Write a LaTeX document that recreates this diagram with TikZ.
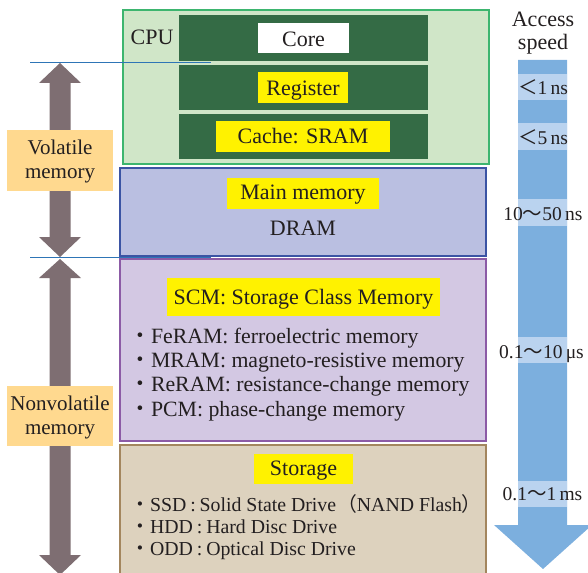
\documentclass[tikz,border=0pt]{standalone}
\usepackage{fontspec}
\setmainfont{Liberation Serif}
\newfontfamily\cjk{Noto Sans CJK JP}

\definecolor{cpufill}{HTML}{D0E6C8}
\definecolor{cpuline}{HTML}{3DB56F}
\definecolor{darkbar}{HTML}{346B45}
\definecolor{mainfill}{HTML}{BABFE1}
\definecolor{mainline}{HTML}{3B54A4}
\definecolor{scmfill}{HTML}{D3C8E3}
\definecolor{scmline}{HTML}{8C5BA6}
\definecolor{storfill}{HTML}{DDD2BE}
\definecolor{storline}{HTML}{A3865E}
\definecolor{tagorange}{HTML}{FFD98F}
\definecolor{bigarrow}{HTML}{7E6E72}
\definecolor{speedblue}{HTML}{7CAFDE}
\definecolor{speedband}{HTML}{BAD3EF}
\definecolor{hlyellow}{HTML}{FFF200}
\definecolor{rule}{HTML}{2E75B6}
\definecolor{ink}{HTML}{231F20}

\newcommand\fsz[1]{\fontsize{#1}{24}\selectfont}
\newcommand\bul{{\cjk ・}}
\newcommand\wave{{\cjk ～}}
\newcommand\sep{\hspace{0.2em}:\hspace{0.2em}}

\tikzset{
  layer/.style={draw, line width=1.6pt, inner sep=0pt, minimum width=366pt},
  bar/.style={fill=darkbar, inner sep=0pt, minimum width=249pt},
  hl/.style={fill=hlyellow, inner sep=0pt},
  txt/.style={inner sep=0pt, text=ink, anchor=base, font=\fsz{22}},
  item/.style={inner sep=0pt, text=ink, anchor=base west, font=\fsz{21.8}},
  sitem/.style={inner sep=0pt, text=ink, anchor=base west, font=\fsz{19.8}},
  kind/.style={fill=tagorange, inner sep=0pt, minimum width=106pt},
  kindtxt/.style={inner sep=0pt, text=ink, anchor=base, font=\fsz{21}},
  band/.style={fill=speedband, inner sep=0pt, minimum width=49pt},
  speed/.style={inner sep=0pt, text=ink, anchor=base, font=\fsz{19.5}},
  divider/.style={draw=rule, line width=1.3pt},
}

\begin{document}
\begin{tikzpicture}[x=1pt, y=-1pt]
\useasboundingbox (0,0) rectangle (588,572);

% CPU block
\node[layer, draw=cpuline, fill=cpufill, minimum height=154pt] (cpu) at (306,87) {};
\node[txt] (cpulabel) at (152,45) {CPU};
\node[bar, minimum height=46pt] (bar1) at (303.5,38) {};
\node[bar, minimum height=45pt] (bar2) at (303.5,87.5) {};
\node[bar, minimum height=45pt] (bar3) at (303.5,136.5) {};
\node[hl, fill=white, minimum width=91pt, minimum height=30pt] (core) at (303.5,38) {};
\node[hl, minimum width=90pt, minimum height=31pt] (reg) at (303,87.5) {};
\node[hl, minimum width=174pt, minimum height=31pt] (cache) at (303,136.5) {};
\node[txt] (coretxt) at (303.5,46.5) {Core};
\node[txt] (regtxt) at (303,95.5) {Register};
\node[txt] (cachetxt) at (303,144) {Cache: SRAM};

% main memory
\node[layer, draw=mainline, fill=mainfill, minimum height=88pt] (main) at (303,212) {};
\node[hl, minimum width=152pt, minimum height=31pt] (maintag) at (303,193.5) {};
\node[txt] (maintxt) at (303,199.5) {Main memory};
\node[txt] (dram) at (303,235.5) {DRAM};

% storage class memory
\node[layer, draw=scmline, fill=scmfill, minimum height=182pt] (scm) at (303,350) {};
\node[hl, minimum width=273pt, minimum height=38pt] (scmtag) at (303.5,297) {};
\node[txt] (scmtxt) at (303.5,304) {SCM: Storage Class Memory};
\node[item] (fe) at (129,343) {\bul FeRAM: ferroelectric memory};
\node[item] (mr) at (129,367.5) {\bul MRAM: magneto-resistive memory};
\node[item] (re) at (129,391.5) {\bul ReRAM: resistance-change memory};
\node[item] (pc) at (129,416.5) {\bul PCM: phase-change memory};

% storage
\node[layer, draw=storline, fill=storfill, minimum height=140pt] (stor) at (303,515) {};
\node[hl, minimum width=99pt, minimum height=30pt] (stortag) at (303.5,469) {};
\node[txt] (stortxt) at (303.5,475.5) {Storage};
\node[sitem] (ssd) at (130,511.5) {\bul SSD\sep Solid State Drive\hspace{0.05em}{\cjk （}NAND Flash{\cjk ）}};
\node[sitem] (hdd) at (130,533) {\bul HDD\sep Hard Disc Drive};
\node[sitem] (odd) at (130,555) {\bul ODD\sep Optical Disc Drive};

% volatile / nonvolatile double arrows
\fill[bigarrow] (60,63) -- (81,83) -- (70.5,83) -- (70.5,237) -- (81,237) -- (60,257)
  -- (39,237) -- (49.5,237) -- (49.5,83) -- (39,83) -- cycle;
\fill[bigarrow] (60,259) -- (81,278) -- (70.5,278) -- (70.5,555) -- (81,555) -- (60,575)
  -- (39,555) -- (49.5,555) -- (49.5,278) -- (39,278) -- cycle;
\node[kind, minimum height=61pt] (vol) at (60,160.5) {};
\node[kindtxt] (vol1) at (60,155) {Volatile};
\node[kindtxt] (vol2) at (60,178.5) {memory};
\node[kind, minimum height=60pt] (nonvol) at (60,416) {};
\node[kindtxt] (nonvol1) at (60,410) {Nonvolatile};
\node[kindtxt] (nonvol2) at (60,434) {memory};

% boundary rules
\coordinate (r1a) at (30,62.5);  \coordinate (r1b) at (211,62.5);
\coordinate (r2a) at (30,257.5); \coordinate (r2b) at (211,257.5);
\draw[divider] (r1a) -- (r1b);
\draw[divider] (r2a) -- (r2b);

% access speed scale
\node[txt] (acc1) at (543,26.5) {Access};
\node[txt] (acc2) at (543,50) {speed};
\fill[speedblue] (518,60) -- (567,60) -- (567,525) -- (592,525) -- (543,569)
  -- (494,525) -- (518,525) -- cycle;
\node[band, minimum height=26pt] (b1) at (542.5,87) {};
\node[band, minimum height=27pt] (b2) at (542.5,136.5) {};
\node[band, minimum height=27pt] (b3) at (542.5,212.5) {};
\node[band, minimum height=26pt] (b4) at (542.5,350) {};
\node[band, minimum height=26pt] (b5) at (542.5,494) {};
\node[speed] (s1) at (543,95) {{\cjk ＜}1\,ns};
\node[speed] (s2) at (543,145) {{\cjk ＜}5\,ns};
\node[speed] (s3) at (543,220) {10\wave50\,ns};
\node[speed] (s4) at (541.5,358) {0.1\wave10\,μs};
\node[speed] (s5) at (542.5,500.5) {0.1\wave1\,ms};
\end{tikzpicture}
\end{document}
